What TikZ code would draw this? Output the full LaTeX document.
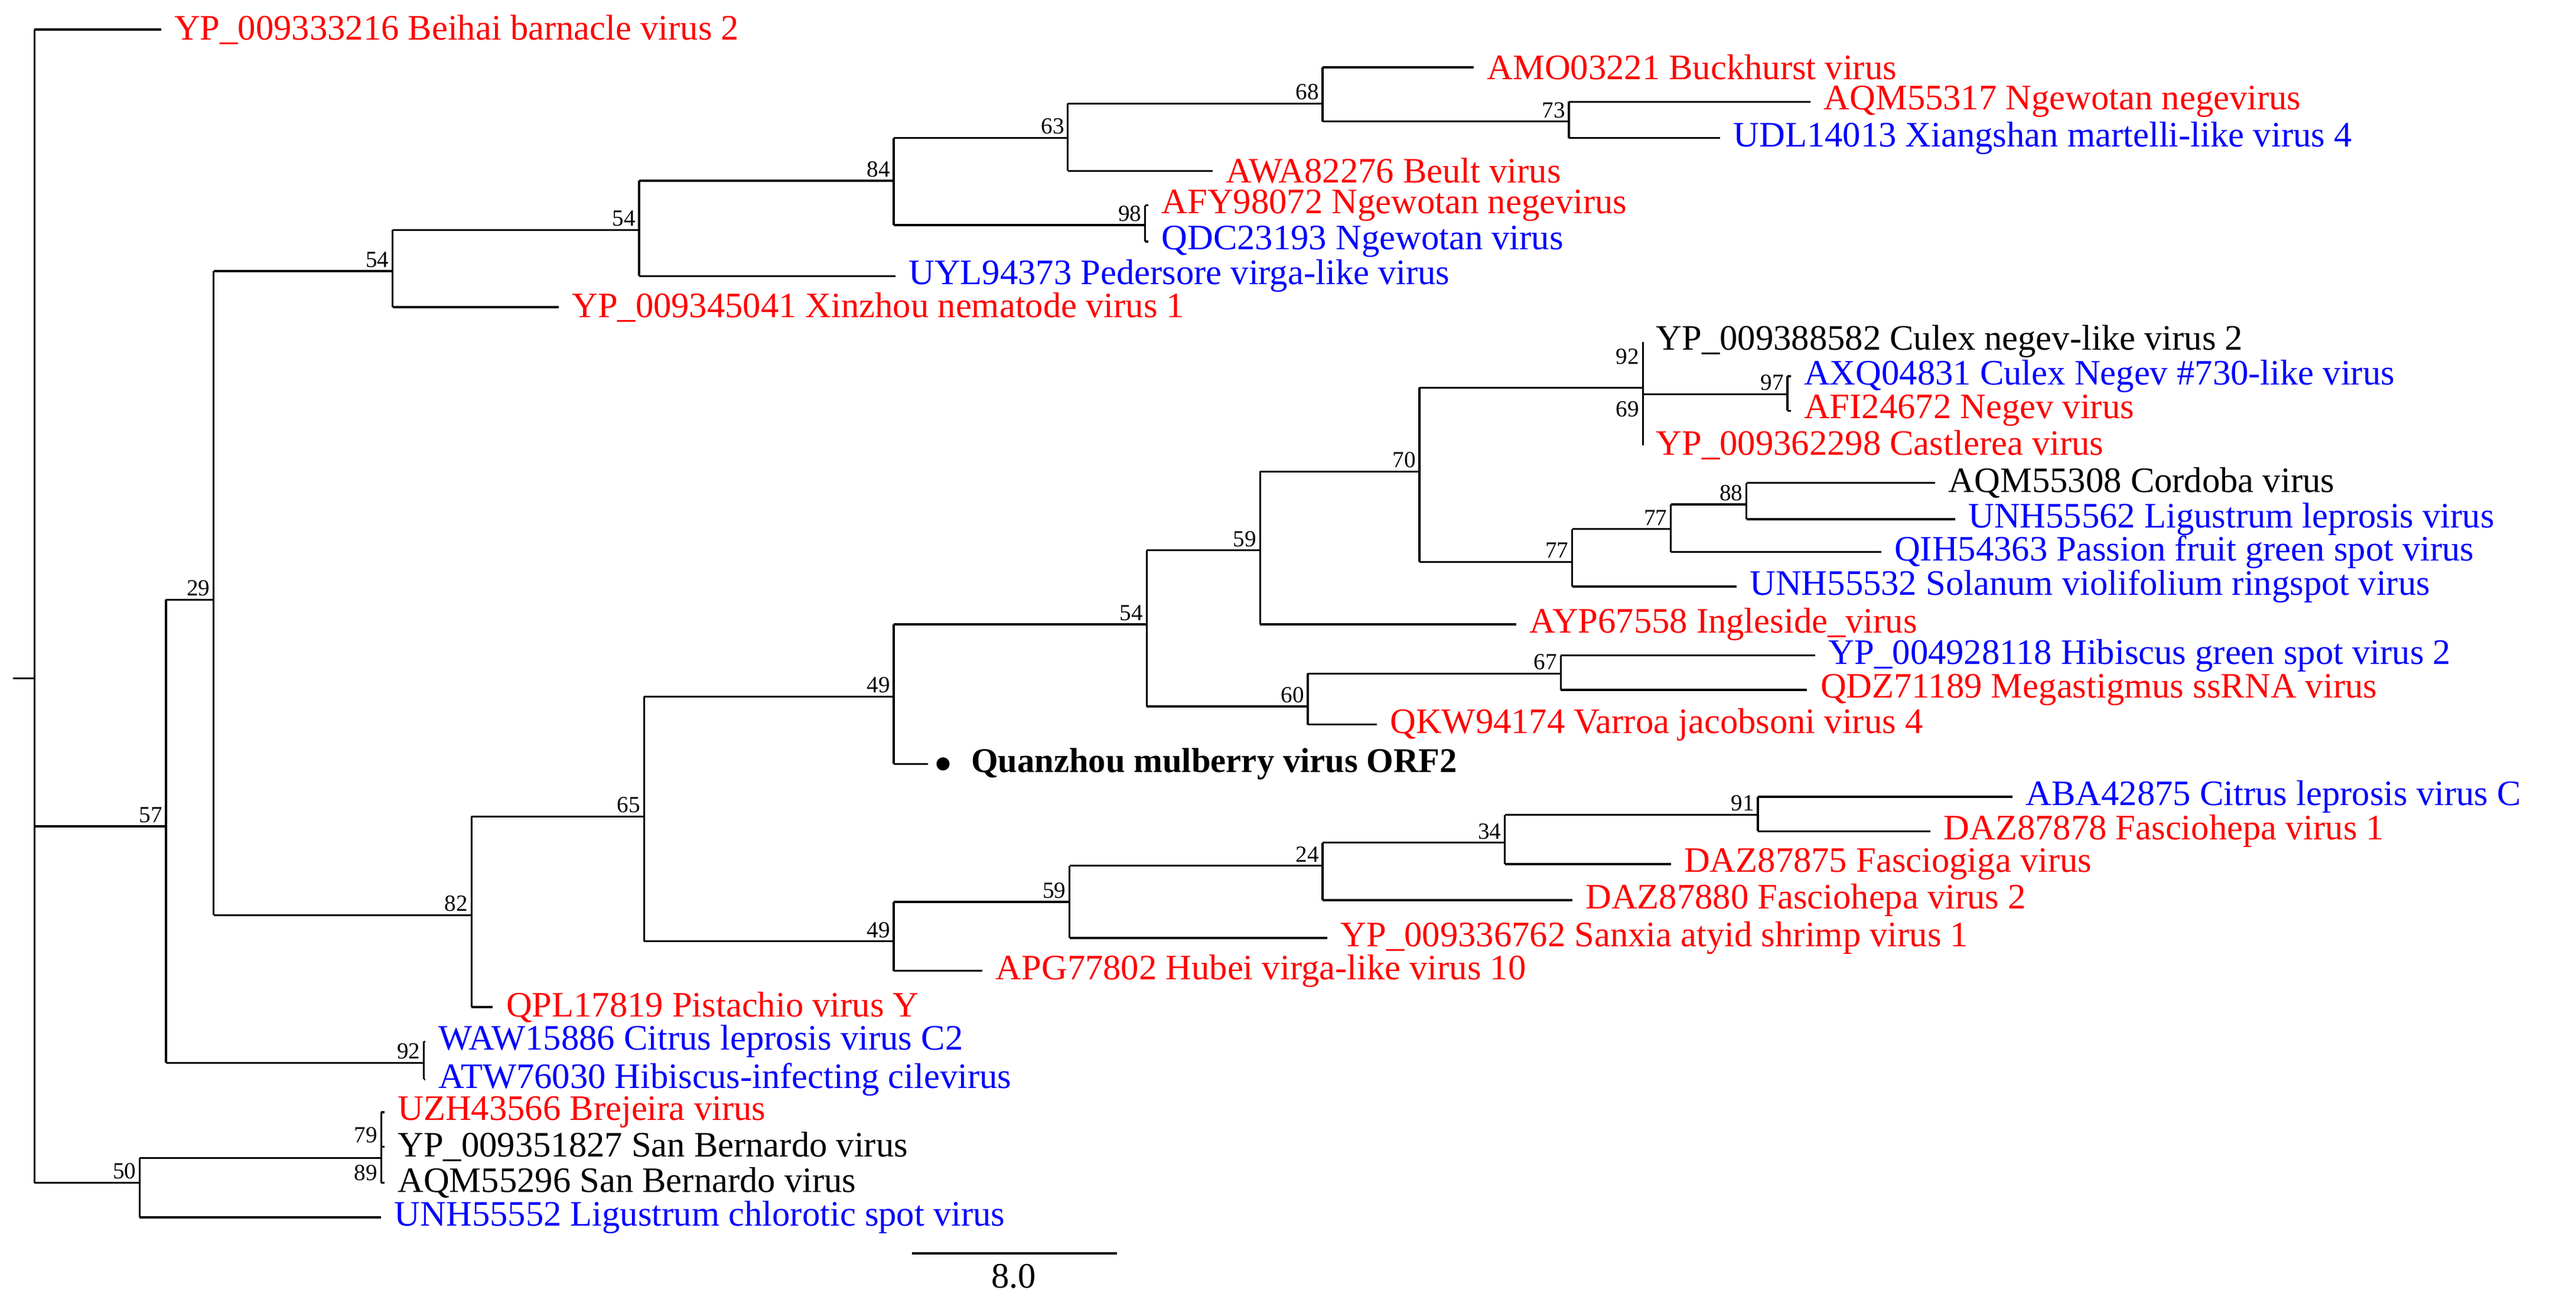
\documentclass[tikz,border=0pt]{standalone}
\usepackage{fontspec}
\setmainfont{Liberation Serif}
\definecolor{vr}{RGB}{255,0,0}
\definecolor{vb}{RGB}{0,0,255}
\newcommand{\lf}[5]{\draw[br] (#1,#3) -- (#2,#3); \node[leaf,text=#4] at (#2+8,#3) {#5};}
\newcommand{\bs}[3]{\node[bsl] at (#1,#2) {#3};}
\begin{document}
\begin{tikzpicture}[x=0.05cm,y=-0.05cm,
 br/.style={line width=1.7pt},
 leaf/.style={anchor=west,inner sep=0pt,font=\fontsize{31}{31}\selectfont},
 bsl/.style={anchor=south east,inner sep=3pt,font=\fontsize{20}{20}\selectfont}]
\useasboundingbox (0,0) rectangle (1568,793);
% root
\draw[br] (8,413)--(21,413);
\draw[br] (21,18)--(21,720);
\lf{21}{98}{18}{vr}{YP\_009333216 Beihai barnacle virus  2}
% 57
\draw[br] (21,503)--(101,503) (101,365)--(101,647); \bs{101}{503}{57}
% 50
\draw[br] (21,720)--(85,720) (85,705)--(85,741); \bs{85}{720}{50}
% 29
\draw[br] (101,365)--(130,365) (130,165)--(130,557); \bs{130}{365}{29}
% 92 citrus
\draw[br] (101,647)--(258,647) (258,634)--(258,657); \bs{258}{647}{92}
\lf{258}{259}{634}{vb}{WAW15886 Citrus leprosis virus C2}
\lf{258}{259}{657}{vb}{ATW76030 Hibiscus-infecting cilevirus}
% 54 top
\draw[br] (130,165)--(239,165) (239,140)--(239,187); \bs{239}{165}{54}
\lf{239}{340}{187}{vr}{YP\_009345041 Xinzhou nematode virus 1}
\draw[br] (239,140)--(389,140) (389,110)--(389,168); \bs{389}{140}{54}
\lf{389}{545}{168}{vb}{UYL94373 Pedersore virga-like virus}
\draw[br] (389,110)--(544,110) (544,84)--(544,137); \bs{544}{110}{84}
\draw[br] (544,137)--(697,137) (697,125)--(697,147); \bs{697}{137}{98}
\lf{697}{699}{125}{vr}{AFY98072 Ngewotan negevirus}
\lf{697}{699}{147}{vb}{QDC23193 Ngewotan virus}
\draw[br] (544,84)--(650,84) (650,63)--(650,104); \bs{650}{84}{63}
\lf{650}{738}{104}{vr}{AWA82276 Beult virus}
\draw[br] (650,63)--(805,63) (805,41)--(805,74); \bs{805}{63}{68}
\lf{805}{897}{41}{vr}{AMO03221 Buckhurst virus}
\draw[br] (805,74)--(955,74) (955,62)--(955,84); \bs{955}{74}{73}
\lf{955}{1102}{62}{vr}{AQM55317 Ngewotan negevirus}
\lf{955}{1047}{84}{vb}{UDL14013 Xiangshan martelli-like virus 4}
% 82
\draw[br] (130,557)--(287,557) (287,497)--(287,613); \bs{287}{557}{82}
\lf{287}{300}{613}{vr}{QPL17819 Pistachio virus Y}
\draw[br] (287,497)--(392,497) (392,424)--(392,573); \bs{392}{497}{65}
\draw[br] (392,424)--(544,424) (544,380)--(544,465); \bs{544}{424}{49}
\draw[br] (544,465)--(565,465);
\fill (574,465) circle (4);
\node[leaf,font=\fontsize{30}{30}\selectfont\bfseries] at (591,465) {Quanzhou mulberry virus ORF2};
\draw[br] (544,380)--(698,380) (698,335)--(698,430); \bs{698}{380}{54}
\draw[br] (698,335)--(767,335) (767,287)--(767,380); \bs{767}{335}{59}
\lf{767}{923}{380}{vr}{AYP67558 Ingleside\_virus}
\draw[br] (767,287)--(864,287) (864,236)--(864,342); \bs{864}{287}{70}
\draw[br] (864,236)--(1000,236) (1000,208)--(1000,271);
\bs{1000}{224}{92} \bs{1000}{256}{69}
\lf{1000}{1000}{208}{black}{YP\_009388582 Culex negev-like virus 2}
\lf{1000}{1000}{271}{vr}{YP\_009362298 Castlerea virus}
\draw[br] (1000,240)--(1088,240) (1088,229)--(1088,250); \bs{1088}{240}{97}
\lf{1088}{1090}{229}{vb}{AXQ04831 Culex Negev \#730-like virus}
\lf{1088}{1090}{250}{vr}{AFI24672 Negev virus}
\draw[br] (864,342)--(957,342) (957,322)--(957,357); \bs{957}{342}{77}
\lf{957}{1057}{357}{vb}{UNH55532 Solanum violifolium ringspot virus}
\draw[br] (957,322)--(1017,322) (1017,307)--(1017,336); \bs{1017}{322}{77}
\lf{1017}{1145}{336}{vb}{QIH54363 Passion fruit green spot virus}
\draw[br] (1017,307)--(1063,307) (1063,294)--(1063,316); \bs{1063}{307}{88}
\lf{1063}{1178}{294}{black}{AQM55308 Cordoba virus}
\lf{1063}{1190}{316}{vb}{UNH55562 Ligustrum leprosis virus}
\draw[br] (698,430)--(796,430) (796,410)--(796,441); \bs{796}{430}{60}
\lf{796}{838}{441}{vr}{QKW94174 Varroa jacobsoni virus 4}
\draw[br] (796,410)--(950,410) (950,399)--(950,420); \bs{950}{410}{67}
\lf{950}{1105}{399}{vb}{YP\_004928118 Hibiscus green spot virus 2}
\lf{950}{1100}{420}{vr}{QDZ71189 Megastigmus ssRNA virus}
% lower 49
\draw[br] (392,573)--(544,573) (544,549)--(544,591); \bs{544}{573}{49}
\lf{544}{598}{591}{vr}{APG77802 Hubei virga-like virus 10}
\draw[br] (544,549)--(651,549) (651,527)--(651,571); \bs{651}{549}{59}
\lf{651}{808}{571}{vr}{YP\_009336762 Sanxia atyid shrimp virus 1}
\draw[br] (651,527)--(805,527) (805,513)--(805,548); \bs{805}{527}{24}
\lf{805}{957}{548}{vr}{DAZ87880 Fasciohepa virus 2}
\draw[br] (805,513)--(916,513) (916,496)--(916,526); \bs{916}{513}{34}
\lf{916}{1017}{526}{vr}{DAZ87875 Fasciogiga virus}
\draw[br] (916,496)--(1070,496) (1070,485)--(1070,506); \bs{1070}{496}{91}
\lf{1070}{1225}{485}{vb}{ABA42875 Citrus leprosis virus C}
\lf{1070}{1175}{506}{vr}{DAZ87878 Fasciohepa virus 1}
% 50 group
\draw[br] (85,705)--(232,705) (232,677)--(232,720);
\bs{232}{698}{79} \bs{232}{721}{89}
\lf{232}{234}{677}{vr}{UZH43566 Brejeira virus}
\lf{232}{234}{698}{black}{YP\_009351827 San Bernardo virus}
\lf{232}{234}{720}{black}{AQM55296 San Bernardo virus}
\lf{85}{232}{741}{vb}{UNH55552 Ligustrum chlorotic spot virus}
% scale
\draw[br] (555,763) -- (680,763);
\node[font=\fontsize{31}{31}\selectfont] at (617,777) {8.0};
\end{tikzpicture}
\end{document}
